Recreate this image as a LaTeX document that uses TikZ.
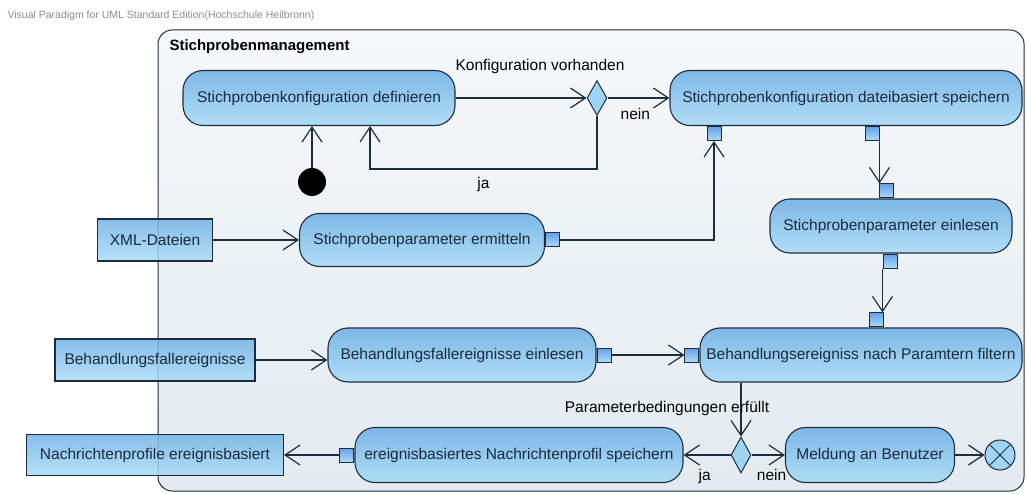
\documentclass[tikz,border=0pt]{standalone}
\usepackage{fontspec}
\setmainfont{Liberation Sans}
\usetikzlibrary{arrows.meta, positioning, shapes.geometric}

\definecolor{actTop}{HTML}{72B2E6}
\definecolor{actBot}{HTML}{AADCF7}
\definecolor{lineDark}{HTML}{1E2D3E}
\definecolor{txtDark}{HTML}{1B2A3C}
\definecolor{frameTop}{HTML}{F6F8FA}
\definecolor{frameBot}{HTML}{E3EBF0}

\begin{document}
\begin{tikzpicture}[
        x=1pt, y=-1pt,
        font=\fontsize{15.5}{18}\selectfont,
        action/.style={draw=lineDark, line width=1.1pt, rounded corners=20pt, top color=actTop, bottom color=actBot, fill opacity=0.9, text opacity=1, text=txtDark, minimum height=55pt, inner sep=2pt},
        object/.style={draw=lineDark, line width=1.1pt, rectangle, top color=actTop, bottom color=actBot, fill opacity=0.85, text opacity=1, text=txtDark, minimum height=42pt},
        pinbox/.style={draw=lineDark, line width=1pt, rectangle, top color=actTop!90!blue, bottom color=actBot, minimum size=14pt, inner sep=0pt},
        decision/.style={draw=lineDark, line width=1pt, diamond, fill=actBot!80!actTop, minimum width=20pt, minimum height=35pt, inner sep=0pt},
        arrow/.style={-{Straight Barb[length=15pt, width=20pt]}, line width=1.2pt, draw=lineDark},
        guard/.style={text=black}
    ]
        \useasboundingbox (0,0) rectangle (1027,494);

        % Frame
        \node[anchor=west, text=black!45, font=\fontsize{10.5}{12}\selectfont] (vp) at (4,16) {Visual Paradigm for UML Standard Edition(Hochschule Heilbronn)};
        \draw[draw=lineDark, line width=1pt, rounded corners=14pt, top color=frameTop, bottom color=frameBot] (158,30) rectangle (1024,491);
        \node[anchor=west, font=\fontsize{15}{18}\selectfont\bfseries] (title) at (166,47) {Stichprobenmanagement};

        % Nodes
        \node[action, minimum width=272pt] (def) at (319,98) {Stichprobenkonfiguration definieren};
        \node[decision] (konf) at (597,98) {};
        \node[action, minimum width=352pt] (spe) at (846,98) {Stichprobenkonfiguration dateibasiert speichern};
        \node[circle, fill=black, minimum size=28pt, inner sep=0pt] (startnode) at (312,182) {};

        \node[object, minimum width=115pt] (xml) at (155,240) {XML-Dateien};
        \node[action, minimum width=245pt, minimum height=53pt] (erm) at (422,240) {Stichprobenparameter ermitteln};
        \node[action, minimum width=242pt, minimum height=54pt] (ein) at (891,226) {Stichprobenparameter einlesen};

        \node[object, minimum width=200pt] (beh) at (155,360) {Behandlungsfallereignisse};
        \node[action, minimum width=268pt, minimum height=54pt] (fein) at (462,355) {Behandlungsfallereignisse einlesen};
        \node[action, minimum width=322pt, minimum height=54pt] (fil) at (861,355) {Behandlungsereigniss nach Paramtern filtern};

        \node[object, minimum width=257pt, minimum height=41pt] (nach) at (155,455) {Nachrichtenprofile ereignisbasiert};
        \node[action, minimum width=328pt] (nsp) at (519,455) {ereignisbasiertes Nachrichtenprofil speichern};
        \node[decision, minimum height=36pt] (param) at (741,455) {};
        \node[action, minimum width=169pt] (mel) at (870,455) {Meldung an Benutzer};
        \node[circle, draw=lineDark, line width=1pt, fill=actBot!80!actTop, minimum size=30pt, inner sep=0pt,
              path picture={\draw[lineDark, line width=1pt] ([shift={(-11pt,-11pt)}]path picture bounding box.center) -- ([shift={(11pt,11pt)}]path picture bounding box.center)
                                                             ([shift={(-11pt,11pt)}]path picture bounding box.center) -- ([shift={(11pt,-11pt)}]path picture bounding box.center);}] (endnode) at (1000,455) {};

        % Pins
        \node[pinbox, anchor=north] (speIn) at ([xshift=-132pt]spe.south) {};
        \node[pinbox, anchor=north] (speOut) at ([xshift=26pt]spe.south) {};
        \node[pinbox, anchor=south] (einIn) at ([xshift=-5pt]ein.north) {};
        \node[pinbox, anchor=north] (einOut) at ([xshift=-1pt]ein.south) {};
        \node[pinbox, anchor=west] (ermOut) at (erm.east) {};
        \node[pinbox, anchor=south] (filIn) at ([xshift=15pt]fil.north) {};
        \node[pinbox, anchor=east] (filPin) at (fil.west) {};
        \node[pinbox, anchor=west] (feinOut) at (fein.east) {};
        \node[pinbox, anchor=east] (nspOut) at (nsp.west) {};

        % Arrows and Labels
        \draw[arrow] (startnode) -- (startnode |- def.south);
        \draw[arrow] (def) -- (konf);
        \draw[arrow] (konf) -- (spe) node[guard, pos=0.45, below=6pt] {nein};
        \draw[arrow] (konf.south) -- ++(0,53) -| ([xshift=51pt]def.south) node[guard, pos=0.25, below=4pt] {ja};
        \node[guard] (konfLabel) at (540,66) {Konfiguration vorhanden};

        \draw[arrow] (xml) -- (erm);
        \draw[arrow] (ermOut.east) -| (speIn.south);
        \draw[arrow] (speOut.south east) -- (speOut.south east |- einIn.north);
        \draw[arrow] (einOut.south west) -- (einOut.south west |- filIn.north);

        \draw[arrow] (beh.east) -- (beh.east -| fein.west);
        \draw[arrow] (feinOut.east) -- (filPin.west);

        \draw[arrow] (param.north |- fil.south) -- (param.north);
        \node[guard] (paramLabel) at (667,408) {Parameterbedingungen erfüllt};
        \draw[arrow] (param) -- (nsp) node[guard, pos=0.55, below=10pt] {ja};
        \draw[arrow] (param) -- (mel) node[guard, pos=0.6, below=10pt] {nein};
        \draw[arrow] (mel) -- (endnode);
        \draw[arrow] (nspOut.west) -- (nach);
    \end{tikzpicture}
\end{document}
